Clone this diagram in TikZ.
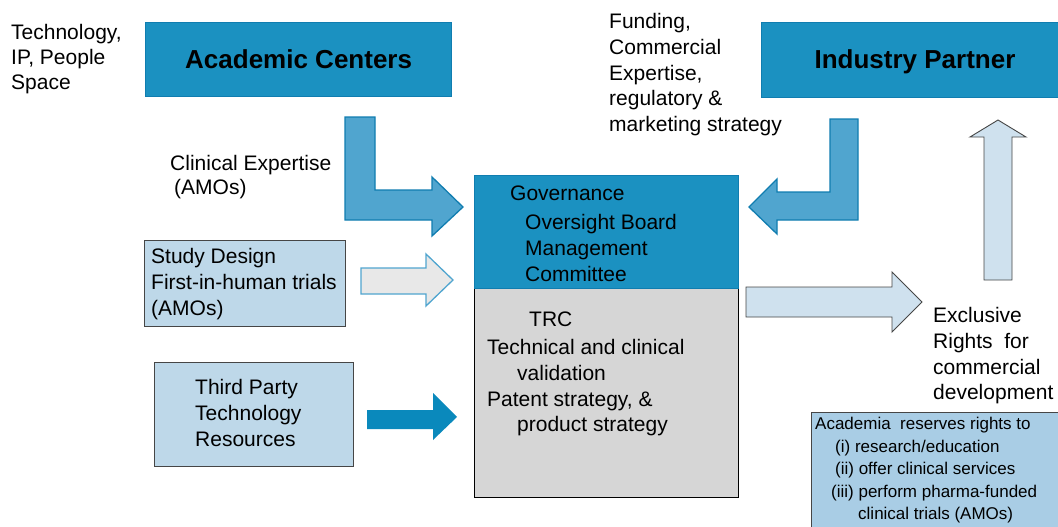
\documentclass[tikz,border=0pt]{standalone}
\usepackage{fontspec}
\setmainfont{Liberation Sans}
\definecolor{coreblue}{RGB}{27,145,193}
\definecolor{coreedge}{RGB}{16,125,176}
\definecolor{midblue}{RGB}{80,165,207}
\definecolor{paleblue}{RGB}{190,216,233}
\definecolor{softblue}{RGB}{207,225,238}
\definecolor{noteblue}{RGB}{169,205,229}
\definecolor{deepblue}{RGB}{10,137,188}
\definecolor{trcgray}{RGB}{214,214,214}
\definecolor{lightgray}{RGB}{232,232,232}
\definecolor{edgegray}{RGB}{70,70,70}
\tikzset{
  headbox/.style={draw=coreedge, fill=coreblue, line width=1.3pt, anchor=north west, inner sep=0pt},
  infobox/.style={draw=edgegray, fill=paleblue, line width=1pt, anchor=north west, inner sep=0pt},
  txt/.style={anchor=north west, inner sep=0pt, align=left, font=\fontsize{21}{25.8}\selectfont},
  smalltxt/.style={anchor=north west, inner sep=0pt, align=left, font=\fontsize{17}{22.6}\selectfont},
  title/.style={font=\fontsize{26}{30}\selectfont\bfseries},
  bendarrow/.style={draw=coreedge, fill=midblue, line width=1.3pt, line join=miter},
  lightarrow/.style={draw=edgegray, fill=softblue, line width=0.9pt, line join=miter},
}
\begin{document}
\begin{tikzpicture}[x=1pt, y=-1pt]
\useasboundingbox (0,0) rectangle (1058,527);

% partner boxes along the top
\node[headbox, minimum width=306pt, minimum height=74pt] (ac) at (145,22) {};
\node[title] (actext) at (ac.center) {Academic Centers};
\node[headbox, minimum width=310pt, minimum height=75pt] (ip) at (761,22) {};
\node[title] (iptext) at (915,62) {Industry Partner};

% central governance and TRC block
\node[draw=black, fill=trcgray, line width=1.3pt, anchor=north west, inner sep=0pt,
      minimum width=264pt, minimum height=209pt] (trc) at (474,288) {};
\node[headbox, minimum width=264pt, minimum height=113pt] (gov) at (474,175) {};

% input boxes on the left
\node[infobox, minimum width=201pt, minimum height=86pt] (sd) at (144,240) {};
\node[infobox, minimum width=199pt, minimum height=104pt] (tp) at (154,362) {};
\node[draw=edgegray, fill=noteblue, line width=1pt, anchor=north west, inner sep=0pt,
      minimum width=260pt, minimum height=120pt] (ar) at (811,412) {};

% block arrows
\draw[bendarrow] (345,117) -- (375,117) -- (375,190) -- (432,190) -- (432,177)
  -- (463,207) -- (432,236) -- (432,220) -- (345,220) -- cycle;
\draw[bendarrow] (830,119) -- (858,119) -- (858,220) -- (777,220) -- (777,234)
  -- (749,207) -- (777,179) -- (777,192) -- (830,192) -- cycle;
\draw[draw=midblue, fill=lightgray, line width=1.3pt, line join=miter]
  (361,268) -- (426,268) -- (426,254) -- (453,280) -- (426,306) -- (426,294) -- (361,294) -- cycle;
\fill[deepblue] (367,410) -- (433,410) -- (433,393) -- (457,417) -- (433,440) -- (433,429) -- (367,429) -- cycle;
\draw[lightarrow] (746,287) -- (892,287) -- (892,272) -- (922,302) -- (892,332) -- (892,317) -- (746,317) -- cycle;
\draw[lightarrow] (984,280) -- (1012,280) -- (1012,137) -- (1026,137) -- (998,120) -- (970,137) -- (984,137) -- cycle;

% labels
\node[txt, font=\fontsize{21}{25.2}\selectfont] (tech) at (11,24) {Technology,\\IP, People\\Space};
\node[txt] (fund) at (609,13) {Funding,\\Commercial\\Expertise,\\regulatory \&\\marketing strategy};
\node[txt, font=\fontsize{21}{24.5}\selectfont] (clin) at (170,155) {Clinical Expertise\\\hspace*{4pt}(AMOs)};
\node[txt] (excl) at (933,307) {Exclusive\\Rights\ \ for\\commercial\\development};

\node[txt] (govhead) at (510,186) {Governance};
\node[txt] (govlist) at (525,214) {Oversight Board\\Management\\Committee};

\node[txt] (trchead) at (529,312) {TRC};
\node[txt] (trclist) at (487,339) {Technical and clinical\\\hspace*{30pt}validation\\Patent strategy, \&\\\hspace*{30pt}product strategy};

\node[txt] (sdtext) at (151,248) {Study Design\\First-in-human trials\\(AMOs)};
\node[txt] (tptext) at (195,379) {Third Party\\Technology\\Resources};

\node[smalltxt] (artext) at (815,417) {Academia\ \ reserves rights to\\
  \hspace*{20pt}(i) research/education\\
  \hspace*{20pt}(ii) offer clinical services\\
  \hspace*{16pt}(iii) perform pharma-funded\\
  \hspace*{43pt}clinical trials (AMOs)};
\end{tikzpicture}
\end{document}
